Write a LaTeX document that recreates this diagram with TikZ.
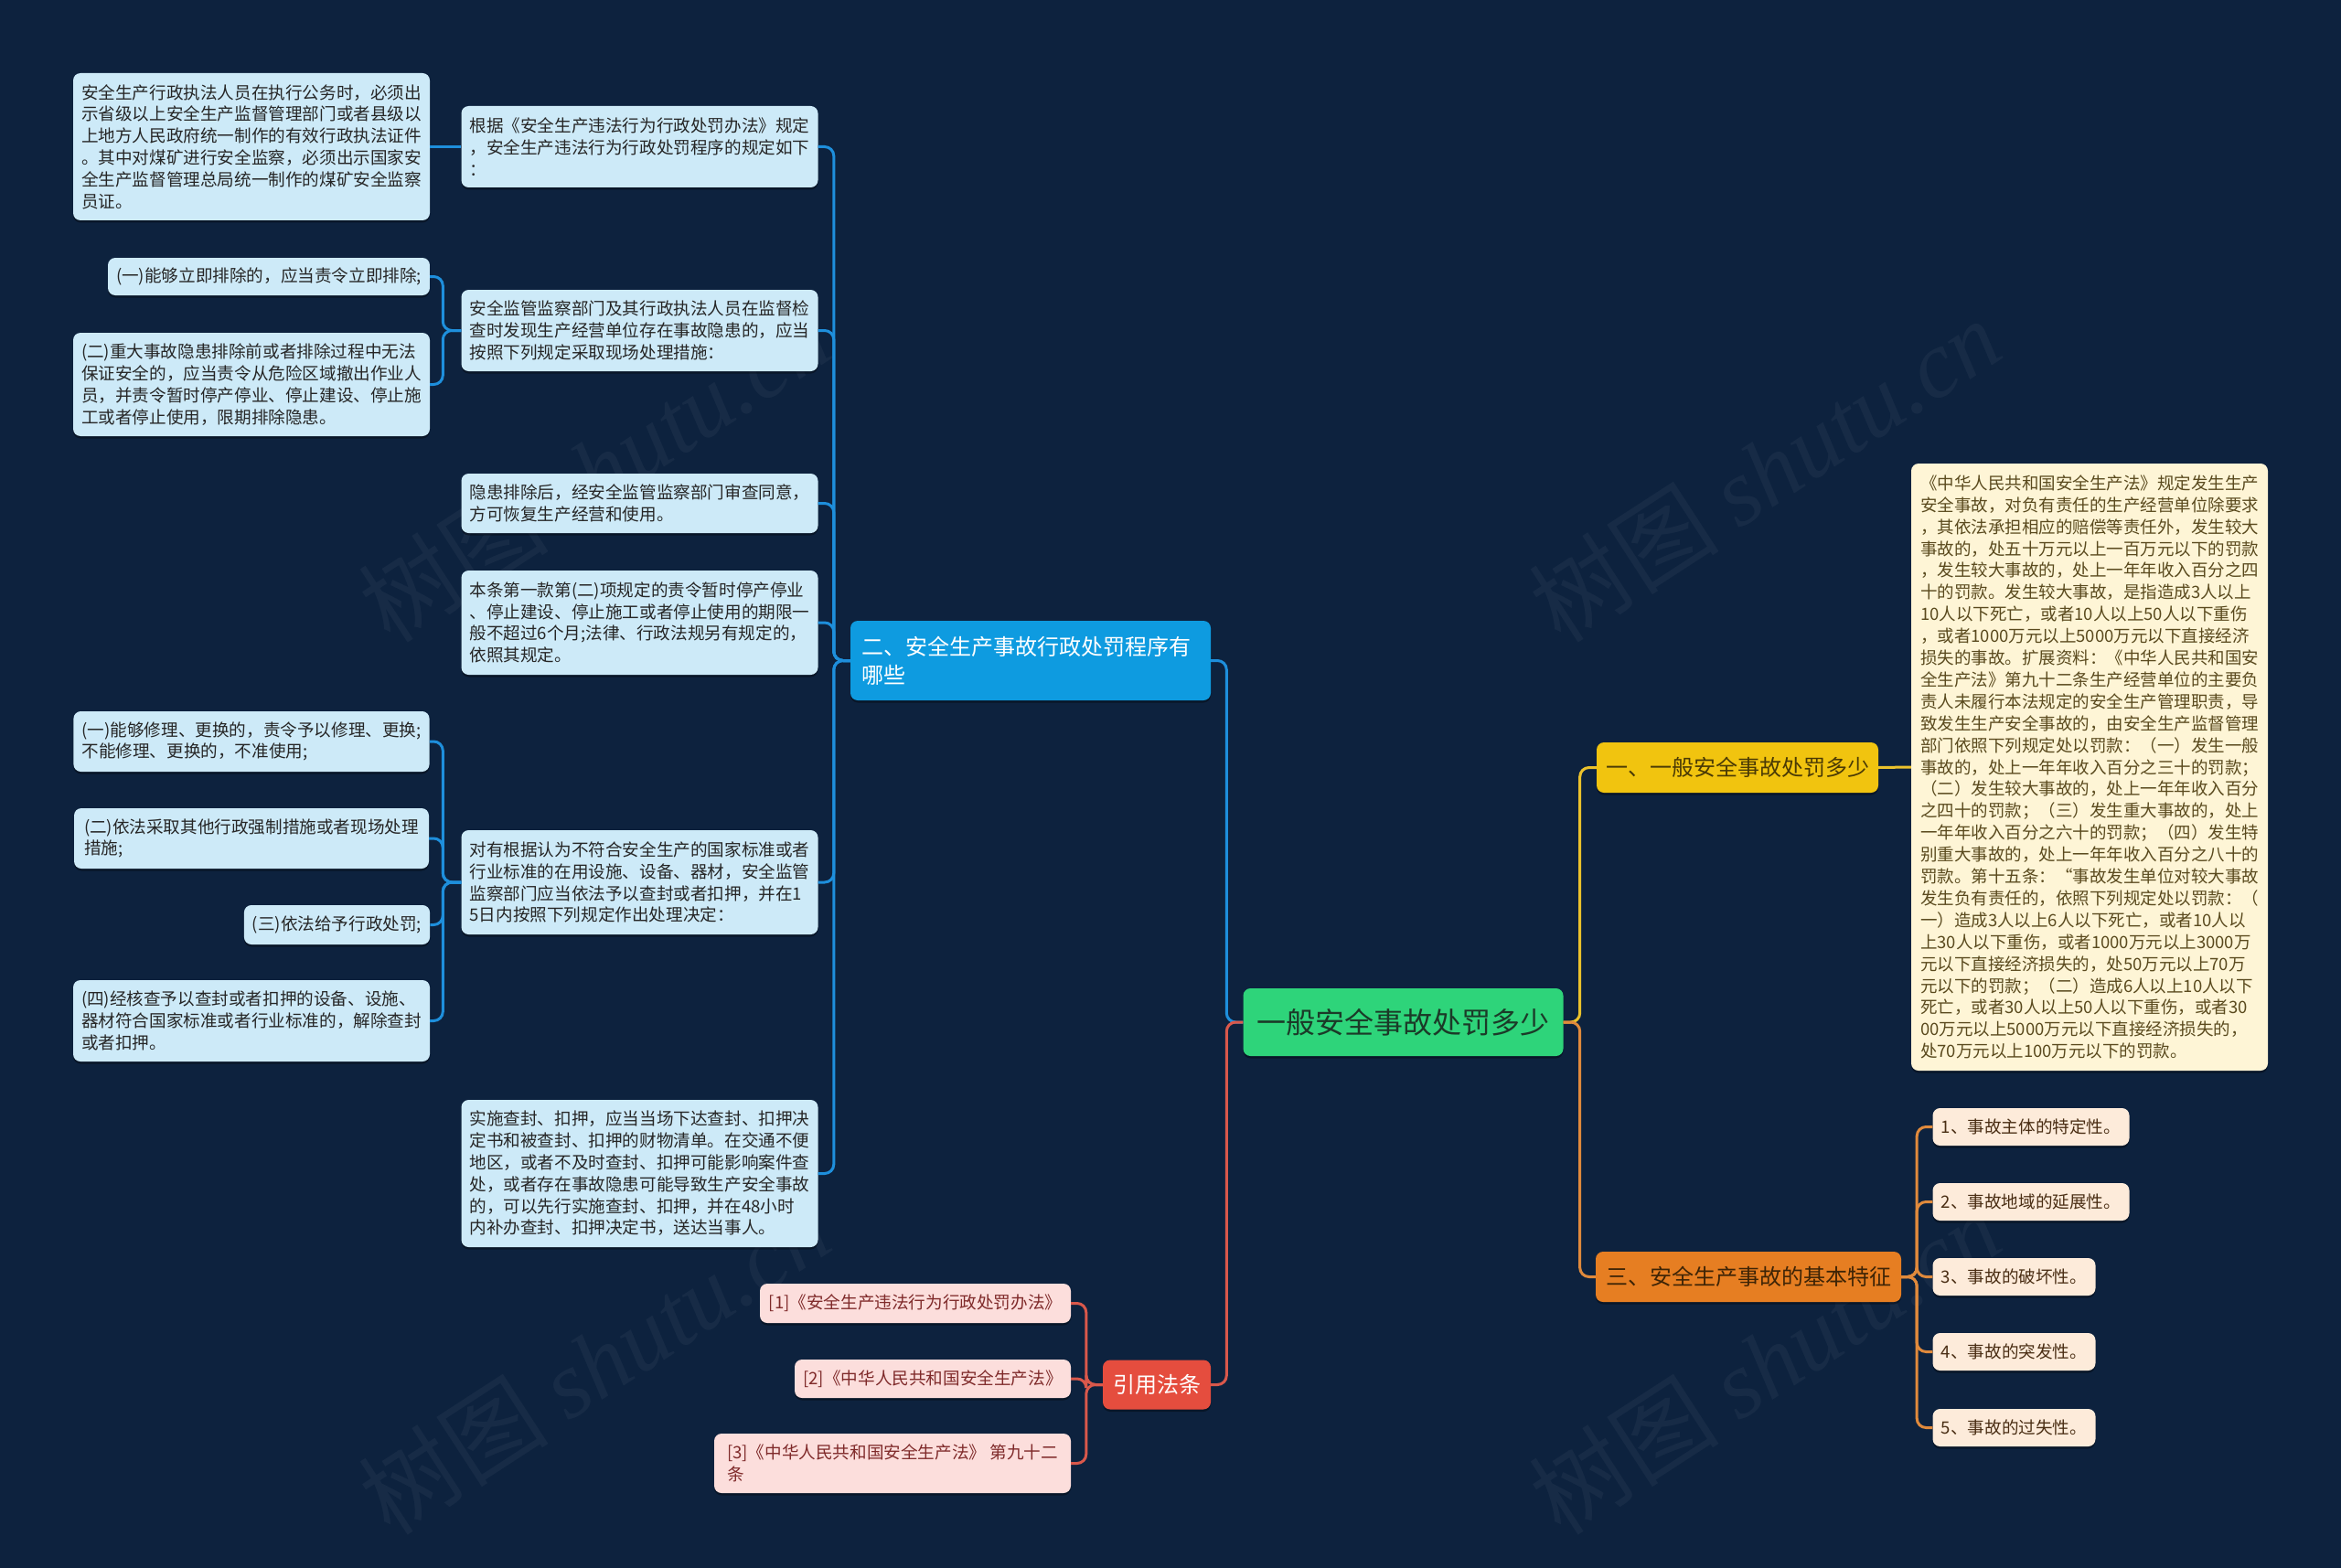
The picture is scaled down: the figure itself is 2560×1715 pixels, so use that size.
\documentclass[tikz,border=0pt]{standalone}
\usepackage{fontspec}
\setmainfont{Noto Sans CJK SC}
\newfontfamily\wmfont{Liberation Serif}
\usetikzlibrary{shadows}

\definecolor{bg}{HTML}{0D223E}
\definecolor{lbfill}{HTML}{CDEAF8}
\definecolor{lbtext}{HTML}{262626}
\definecolor{bbfill}{HTML}{0E9BE0}
\definecolor{bline}{HTML}{1E8FDC}
\definecolor{gfill}{HTML}{2ED47A}
\definecolor{gtext}{HTML}{1B3A28}
\definecolor{yfill}{HTML}{F1C40F}
\definecolor{ytext}{HTML}{4A3A05}
\definecolor{yline}{HTML}{EBC22C}
\definecolor{ofill}{HTML}{E67E22}
\definecolor{otext}{HTML}{3E2406}
\definecolor{oline}{HTML}{E08A3C}
\definecolor{rfill}{HTML}{E54D3E}
\definecolor{rline}{HTML}{D9584B}
\definecolor{cfill}{HTML}{FEF5D6}
\definecolor{ctext}{HTML}{5A4A1E}
\definecolor{ifill}{HTML}{FDEBDA}
\definecolor{itext}{HTML}{4A2E14}
\definecolor{pfill}{HTML}{FCDEDC}
\definecolor{ptext}{HTML}{7F2A2A}

\tikzset{
  box/.style={rounded corners=8pt, align=left, inner xsep=9pt, inner ysep=6pt,
    drop shadow={shadow xshift=0pt, shadow yshift=-2.5pt, opacity=0.35, fill=black}},
  smallfont/.style={font=\fontsize{18.6pt}{23.8pt}\selectfont},
  bigfont/.style={font=\fontsize{24pt}{31pt}\selectfont},
  lb/.style={box, smallfont, fill=lbfill, text=lbtext},
  bb/.style={box, bigfont, fill=bbfill, text=white},
  rootbox/.style={box, font=\fontsize{32pt}{38pt}\selectfont, fill=gfill, text=gtext},
  yb/.style={box, bigfont, fill=yfill, text=ytext},
  ob/.style={box, bigfont, fill=ofill, text=otext},
  rb/.style={box, bigfont, fill=rfill, text=white},
  cb/.style={box, font=\fontsize{18.5pt}{23.9pt}\selectfont, fill=cfill, text=ctext},
  ib/.style={box, smallfont, fill=ifill, text=itext},
  pb/.style={box, smallfont, fill=pfill, text=ptext},
  conn/.style={line width=3pt, rounded corners=10pt},
  bl/.style={conn, draw=bline},
  yl/.style={conn, draw=yline},
  ol/.style={conn, draw=oline},
  rl/.style={conn, draw=rline},
  wm/.style={rotate=33, text=white, text opacity=0.045, font=\fontsize{104pt}{114pt}\selectfont}
}

\begin{document}
\begin{tikzpicture}[x=1pt,y=-1pt]
\fill[bg] (0,0) rectangle (2560,1715);
\useasboundingbox (0,0) rectangle (2560,1715);

% watermarks
\node[wm] (wm1) at (650,514) {树图 {\wmfont\itshape shutu.cn}};
\node[wm] (wm2) at (1930,514) {树图 {\wmfont\itshape shutu.cn}};
\node[wm] (wm3) at (650,1490) {树图 {\wmfont\itshape shutu.cn}};
\node[wm] (wm4) at (1930,1490) {树图 {\wmfont\itshape shutu.cn}};

% root and branches
\node[rootbox, minimum width=350pt, minimum height=74pt] (root) at (1534.5,1118) {一般安全事故处罚多少};
\node[bb, minimum width=394pt, minimum height=87pt, inner xsep=12pt, text width=370pt] (b2) at (1127,722.5) {二、安全生产事故行政处罚程序有\\哪些};
\node[yb, minimum width=308pt, minimum height=55pt] (b1) at (1900,839.5) {一、一般安全事故处罚多少};
\node[ob, minimum width=334pt, minimum height=55pt] (b3) at (1912,1396.5) {三、安全生产事故的基本特征};
\node[rb, minimum width=118pt, minimum height=54pt] (b4) at (1265,1514.5) {引用法条};

% detail of branch 1
\node[cb, minimum width=390pt, minimum height=664pt] (detail) at (2285,839) {《中华人民共和国安全生产法》规定发生生产\\
安全事故，对负有责任的生产经营单位除要求\\
，其依法承担相应的赔偿等责任外，发生较大\\
事故的，处五十万元以上一百万元以下的罚款\\
，发生较大事故的，处上一年年收入百分之四\\
十的罚款。发生较大事故，是指造成3人以上\\
10人以下死亡，或者10人以上50人以下重伤\\
，或者1000万元以上5000万元以下直接经济\\
损失的事故。扩展资料：《中华人民共和国安\\
全生产法》第九十二条生产经营单位的主要负\\
责人未履行本法规定的安全生产管理职责，导\\
致发生生产安全事故的，由安全生产监督管理\\
部门依照下列规定处以罚款：（一）发生一般\\
事故的，处上一年年收入百分之三十的罚款；\\
（二）发生较大事故的，处上一年年收入百分\\
之四十的罚款；（三）发生重大事故的，处上\\
一年年收入百分之六十的罚款；（四）发生特\\
别重大事故的，处上一年年收入百分之八十的\\
罚款。第十五条：“事故发生单位对较大事故\\
发生负有责任的，依照下列规定处以罚款：（\\
一）造成3人以上6人以下死亡，或者10人以\\
上30人以下重伤，或者1000万元以上3000万\\
元以下直接经济损失的，处50万元以上70万\\
元以下的罚款；（二）造成6人以上10人以下\\
死亡，或者30人以上50人以下重伤，或者30\\
00万元以上5000万元以下直接经济损失的，\\
处70万元以上100万元以下的罚款。};

% items of branch 3
\node[ib, minimum width=215pt, minimum height=41pt] (i1) at (2221,1232.5) {1、事故主体的特定性。};
\node[ib, minimum width=215pt, minimum height=41pt] (i2) at (2221,1314.5) {2、事故地域的延展性。};
\node[ib, minimum width=178pt, minimum height=41pt] (i3) at (2202.5,1396.5) {3、事故的破坏性。};
\node[ib, minimum width=178pt, minimum height=41pt] (i4) at (2202.5,1478.5) {4、事故的突发性。};
\node[ib, minimum width=178pt, minimum height=41pt] (i5) at (2202.5,1561.5) {5、事故的过失性。};

% references
\node[pb, minimum width=340pt, minimum height=43pt] (r1) at (1001,1425.5) {[1]《安全生产违法行为行政处罚办法》};
\node[pb, minimum width=302pt, minimum height=42pt] (r2) at (1020,1508) {[2]《中华人民共和国安全生产法》};
\node[pb, minimum width=390pt, minimum height=65pt] (r3) at (976,1600.5) {[3]《中华人民共和国安全生产法》 第九十二\\条};

% children of branch 2
\node[lb, minimum width=389pt, minimum height=89pt] (c1) at (699.5,160.5) {根据《安全生产违法行为行政处罚办法》规定\\，安全生产违法行为行政处罚程序的规定如下\\：};
\node[lb, minimum width=389pt, minimum height=89pt] (c2) at (699.5,361.5) {安全监管监察部门及其行政执法人员在监督检\\查时发现生产经营单位存在事故隐患的，应当\\按照下列规定采取现场处理措施：};
\node[lb, minimum width=389pt, minimum height=65pt] (c3) at (699.5,550.5) {隐患排除后，经安全监管监察部门审查同意，\\方可恢复生产经营和使用。};
\node[lb, minimum width=389pt, minimum height=114pt] (c4) at (699.5,681) {本条第一款第(二)项规定的责令暂时停产停业\\、停止建设、停止施工或者停止使用的期限一\\般不超过6个月;法律、行政法规另有规定的，\\依照其规定。};
\node[lb, minimum width=389pt, minimum height=114pt] (c5) at (699.5,965) {对有根据认为不符合安全生产的国家标准或者\\行业标准的在用设施、设备、器材，安全监管\\监察部门应当依法予以查封或者扣押，并在1\\5日内按照下列规定作出处理决定：};
\node[lb, minimum width=389pt, minimum height=161pt] (c6) at (699.5,1283.5) {实施查封、扣押，应当当场下达查封、扣押决\\定书和被查封、扣押的财物清单。在交通不便\\地区，或者不及时查封、扣押可能影响案件查\\处，或者存在事故隐患可能导致生产安全事故\\的，可以先行实施查封、扣押，并在48小时\\内补办查封、扣押决定书，送达当事人。};

% grandchildren
\node[lb, minimum width=388pt, minimum height=161pt] (g1) at (275,160.5) {安全生产行政执法人员在执行公务时，必须出\\示省级以上安全生产监督管理部门或者县级以\\上地方人民政府统一制作的有效行政执法证件\\。其中对煤矿进行安全监察，必须出示国家安\\全生产监督管理总局统一制作的煤矿安全监察\\员证。};
\node[lb, minimum width=350pt, minimum height=41pt] (g2a) at (294,302.5) {(一)能够立即排除的，应当责令立即排除;};
\node[lb, minimum width=388pt, minimum height=113pt] (g2b) at (275,420.5) {(二)重大事故隐患排除前或者排除过程中无法\\保证安全的，应当责令从危险区域撤出作业人\\员，并责令暂时停产停业、停止建设、停止施\\工或者停止使用，限期排除隐患。};
\node[lb, minimum width=388pt, minimum height=66pt] (g5a) at (275,811) {(一)能够修理、更换的，责令予以修理、更换;\\不能修理、更换的，不准使用;};
\node[lb, minimum width=388pt, minimum height=66pt] (g5b) at (275,917) {(二)依法采取其他行政强制措施或者现场处理\\措施;};
\node[lb, minimum width=201pt, minimum height=43pt] (g5c) at (368.5,1011.5) {(三)依法给予行政处罚;};
\node[lb, minimum width=388pt, minimum height=89pt] (g5d) at (275,1116.5) {(四)经核查予以查封或者扣押的设备、设施、\\器材符合国家标准或者行业标准的，解除查封\\或者扣押。};

% connectors root
\draw[bl] (root.west) -- ++(-18,0) |- (b2.east);
\draw[rl] (root.west) -- ++(-18,0) |- (b4.east);
\draw[yl] (root.east) -- ++(18,0) |- (b1.west);
\draw[ol] (root.east) -- ++(18,0) |- (b3.west);

% branch 2
\foreach \c in {c1,c2,c3,c4,c5,c6}
  \draw[bl] (b2.west) -- ++(-18,0) |- (\c.east);
\draw[bl] (c1.west) -- (g1.east);
\foreach \g in {g2a,g2b}
  \draw[bl] (c2.west) -- ++(-20,0) |- (\g.east);
\foreach \g in {g5a,g5b,g5c,g5d}
  \draw[bl] (c5.west) -- ++(-20,0) |- (\g.east);

% branch 1
\draw[yl] (b1.east) -- (detail.west);

% branch 3
\foreach \i in {i1,i2,i3,i4,i5}
  \draw[ol] (b3.east) -- ++(17,0) |- (\i.west);

% branch 4
\foreach \r in {r1,r2,r3}
  \draw[rl] (b4.west) -- ++(-18,0) |- (\r.east);
\end{tikzpicture}
\end{document}
